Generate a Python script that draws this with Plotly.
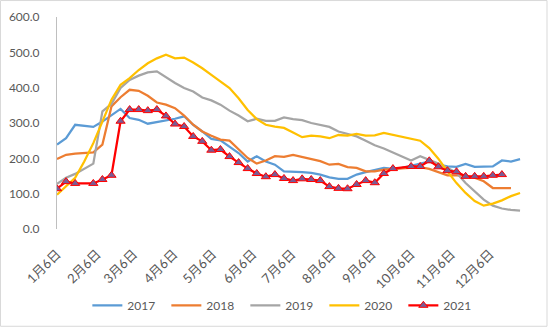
import pandas as pd
import plotly.graph_objects as go

# Weekly observation dates (shared calendar axis for every year)
weeks = pd.date_range("2021-01-06", periods=52, freq="7D")

# Monthly tick positions and their labels
tick_dates = ["2021-%02d-06" % m for m in range(1, 13)]
tick_labels = ["%d月6日" % m for m in range(1, 13)]

y2017 = [239, 257, 295, 292, 289, 304, 321, 340, 314, 309, 298, 302, 306, 312, 319, 295,
         276, 255, 251, 234, 215, 191, 206, 191, 182, 163, 163, 161, 159, 154, 146, 142,
         142, 154, 161, 166, 173, 170, 173, 179, 185, 191, 182, 177, 176, 184, 176, 177,
         177, 194, 191, 198]
y2018 = [198, 210, 213, 215, 217, 239, 347, 373, 394, 391, 377, 358, 352, 342, 321, 295,
         276, 264, 253, 250, 226, 201, 185, 194, 206, 204, 210, 204, 196, 192, 182, 184,
         175, 173, 163, 163, 168, 170, 170, 173, 175, 170, 161, 152, 152, 151, 145, 135,
         116, 116, 116, None]
y2019 = [128, 145, 156, 170, 185, 333, 354, 399, 422, 434, 443, 446, 429, 413, 399, 389,
         372, 364, 352, 335, 321, 305, 312, 306, 306, 316, 311, 308, 300, 295, 289, 276,
         270, 262, 250, 237, 228, 217, 206, 194, 206, 196, 185, 173, 159, 130, 107, 83,
         66, 58, 54, 52]
y2020 = [97, 121, 145, 191, 243, 304, 366, 408, 427, 450, 469, 483, 493, 483, 485, 471,
         455, 436, 417, 399, 370, 337, 311, 295, 290, 286, 273, 260, 264, 262, 257, 266,
         264, 269, 264, 265, 272, 267, 260, 255, 250, 229, 199, 163, 130, 102, 79, 66,
         72, 81, 93, 102]
y2021 = [114, 134, 129, None, 129, 140, 152, 305, 338, 338, 335, 338, 320, 297, 290, 262,
         248, 223, 225, 205, 188, 171, 157, 148, 154, 143, 137, 142, 140, 137, 120, 115,
         114, 126, 137, 131, 157, 171, None, 177, 177, 193, 176, 165, 162, 149, 149, 149,
         152, 154, None, None]

series = [
    ("2017", y2017, "#5B9BD5"),
    ("2018", y2018, "#ED7D31"),
    ("2019", y2019, "#A5A5A5"),
    ("2020", y2020, "#FFC000"),
]

fig = go.Figure()
for name, vals, color in series:
    fig.add_trace(go.Scatter(
        x=weeks, y=vals, name=name, mode="lines",
        line=dict(color=color, width=2.25),
        connectgaps=False,
    ))

fig.add_trace(go.Scatter(
    x=weeks, y=y2021, name="2021", mode="lines+markers",
    line=dict(color="#FF0000", width=2.25),
    marker=dict(symbol="triangle-up", size=8, color="#7A5C94",
                line=dict(color="#FF0000", width=1)),
    connectgaps=True,
))

font_family = "Lato, 'Noto Sans CJK SC', sans-serif"

fig.update_layout(
    width=550, height=330,
    margin=dict(l=57, r=28, t=17, b=100.5, autoexpand=False),
    paper_bgcolor="white", plot_bgcolor="white",
    font=dict(family=font_family, size=12, color="#595959"),
    showlegend=True,
    legend=dict(
        orientation="h", x=0.49, xanchor="center", y=-0.36, yanchor="middle",
        font=dict(size=12, color="#595959"),
        entrywidth=34, entrywidthmode="pixels",
        traceorder="normal",
    ),
    xaxis=dict(
        type="date",
        range=["2021-01-06", "2021-12-30 12:00"],
        tickmode="array", tickvals=tick_dates, ticktext=tick_labels,
        tickangle=-45, showgrid=False, zeroline=False, showline=False,
        ticks="", ticklabelstandoff=14,
        tickfont=dict(size=13, color="#595959"),
    ),
    yaxis=dict(
        range=[0, 600], tickmode="array",
        tickvals=[0, 100, 200, 300, 400, 500, 600],
        ticktext=["0.0", "100.0", "200.0", "300.0", "400.0", "500.0", "600.0"],
        showgrid=False, zeroline=False, showline=True,
        linecolor="#BFBFBF", linewidth=1, ticks="",
        ticklabelstandoff=14,
        tickfont=dict(size=12, color="#595959"),
    ),
    shapes=[dict(
        type="rect", xref="paper", yref="paper",
        x0=(0.5 - 57) / 465, x1=(547 - 57) / 465,
        y0=(229.5 - 327) / 212.5, y1=(229.5 - 0.5) / 212.5,
        line=dict(color="#D9D9D9", width=1), fillcolor="rgba(0,0,0,0)",
        layer="below",
    )],
)

fig.write_html("out.html")
